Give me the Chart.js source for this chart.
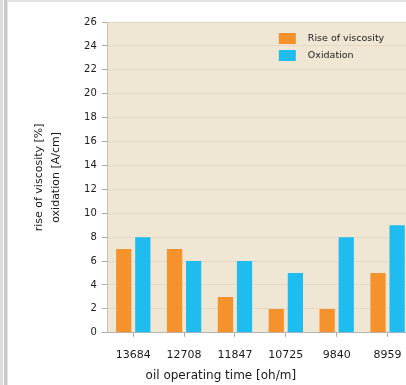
<!DOCTYPE html>
<html>
<head>
<meta charset="utf-8">
<script src="https://cdn.jsdelivr.net/npm/chart.js@4/dist/chart.umd.min.js"></script>
<style>
  html, body { margin: 0; padding: 0; background: #fff; }
  #frame { position: relative; width: 406px; height: 385px; overflow: hidden; }
  #edge1 { position: absolute; left: 0; top: 0; width: 3px; height: 385px; background: #dcdcdc; }
  #edge2 { position: absolute; left: 4px; top: 0; width: 3px; height: 385px; background: #c9c9c9; }
  #edge3 { position: absolute; left: 7px; top: 0; width: 1px; height: 385px; background: #e6e6e6; }
  #topline { position: absolute; left: 8px; top: 0; width: 400px; height: 2px; background: #e2e2e2; }
  #wrap { position: absolute; left: 0; top: 0; width: 420px; height: 385px; }
</style>
</head>
<body>
<div id="frame">
  <div id="wrap"><canvas id="chart"></canvas></div>
  <div id="edge1"></div>
  <div id="edge2"></div>
  <div id="edge3"></div>
  <div id="topline"></div>
</div>
<script>
// --- DATA ---
const categories = ["13684", "12708", "11847", "10725", "9840", "8959"];
const viscosityRise = [7, 7, 3, 2, 2, 5];
const oxidation = [8, 6, 6, 5, 8, 9];
const yTicks = [0, 2, 4, 6, 8, 10, 12, 14, 16, 18, 20, 22, 24, 26];
const seriesNames = ["Rise of viscosity", "Oxidation"];
const xTitle = "oil operating time [oh/m]";
const yTitle = ["rise of viscosity [%]", "oxidation [A/cm]"];

const FONT = "'DejaVu Sans', Verdana, sans-serif";
const ORANGE = "#f5922c";
const BLUE = "#1fbdef";

// plot background + legend in the plot + shifted x title
const plotDecor = {
    id: "plotDecor",
    beforeDraw(chart) {
        const { ctx, chartArea: a } = chart;
        ctx.save();
        ctx.fillStyle = "#f0e6d4";
        ctx.fillRect(a.left, a.top, a.right - a.left, a.bottom - a.top);
        ctx.restore();
    },
    afterDraw(chart) {
        const { ctx, chartArea: a } = chart;
        ctx.save();
        // legend
        ctx.font = "9.5px " + FONT;
        ctx.textBaseline = "middle";
        chart.data.datasets.forEach((ds, i) => {
            const y = a.top + 11 + i * 17;
            ctx.fillStyle = ds.backgroundColor;
            ctx.fillRect(a.left + 171, y, 17, 11);
            ctx.fillStyle = "#1a1a1a";
            ctx.fillText(ds.label, a.left + 200, y + 5.5);
        });
        // x axis title
        ctx.font = "12px " + FONT;
        ctx.textAlign = "center";
        ctx.fillStyle = "#1a1a1a";
        ctx.fillText(xTitle, a.left + 113, 376);
        ctx.restore();
    }
};

const chart = new Chart(document.getElementById("chart"), {
    type: "bar",
    data: {
        labels: categories,
        datasets: [
            { label: seriesNames[0], data: viscosityRise, backgroundColor: ORANGE },
            { label: seriesNames[1], data: oxidation, backgroundColor: BLUE }
        ]
    },
    options: {
        animation: false,
        responsive: true,
        maintainAspectRatio: false,
        layout: { padding: { left: 31, right: 7, top: 22, bottom: 11 } },
        datasets: {
            bar: { categoryPercentage: 0.75, barPercentage: 0.8 }
        },
        scales: {
            x: {
                grid: { offset: false, drawOnChartArea: false, color: "#aaa", tickLength: 4 },
                border: { color: "#b5b5b5" },
                ticks: { color: "#1a1a1a", padding: 12, font: { family: FONT, size: 11 } }
            },
            y: {
                min: 0,
                max: 26,
                afterBuildTicks: (scale) => { scale.ticks = yTicks.map(v => ({ value: v })); },
                grid: { color: "#e4d9c6", tickColor: "#aaa", tickLength: 6 },
                border: { color: "#c8c0b0" },
                ticks: { color: "#1a1a1a", padding: 5, font: { family: FONT, size: 10 } },
                title: {
                    display: true,
                    text: yTitle,
                    color: "#1a1a1a",
                    font: { family: FONT, size: 11, lineHeight: 1.55 },
                    padding: { top: 0, bottom: 14 }
                }
            }
        },
        plugins: {
            legend: { display: false },
            tooltip: { enabled: false }
        }
    },
    plugins: [plotDecor]
});
</script>
</body>
</html>
